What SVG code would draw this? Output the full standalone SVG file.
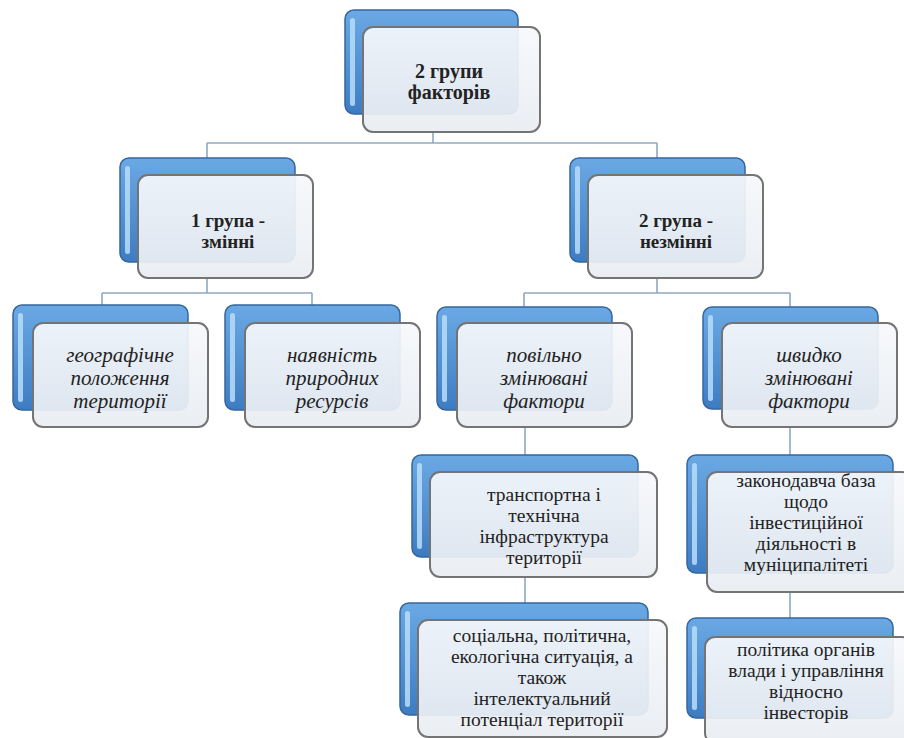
<svg xmlns="http://www.w3.org/2000/svg" width="904" height="738" viewBox="0 0 904 738">
<defs>
<linearGradient id="blue" x1="0" y1="0" x2="0" y2="1">
<stop offset="0" stop-color="#6aa9e4"/>
<stop offset="1" stop-color="#3e7cc2"/>
</linearGradient>
<linearGradient id="front" x1="0" y1="0" x2="0" y2="1">
<stop offset="0" stop-color="#f6f8fb"/>
<stop offset="1" stop-color="#e9edf2"/>
</linearGradient>
</defs>
<style>
.back{fill:url(#blue);stroke:#35679e;stroke-width:1.5}
.hl{fill:#b8ddf8;opacity:0.85}
.front{fill:url(#front);stroke:#747474;stroke-width:2;fill-opacity:0.93}
.conn{stroke:#8fa9c2;stroke-width:1.6;fill:none}
text{fill:#222;text-anchor:middle}
.t1{font-size:20px;font-weight:bold}
.t2{font-size:19px;font-weight:bold}
.t3{font-size:21px;font-style:italic}
.t4{font-size:19.5px}
</style>
<rect width="904" height="738" fill="#ffffff"/>
<g id="connectors">
<path class="conn" d="M433 132V143M207 143H657M207 143V158M657 143V158"/>
<path class="conn" d="M207 278V293M102 293H312M102 293V305M312 293V305"/>
<path class="conn" d="M657 278V293M524 293H790M524 293V307M790 293V307"/>
<path class="conn" d="M525 427V455M790 427V455"/>
<path class="conn" d="M525 577V603M790 592V618"/>
</g>
<g font-family="Liberation Serif, DejaVu Serif, Times New Roman, serif">
<g id="n-root">
<rect class="back" x="345" y="10" width="173" height="104" rx="9"/>
<rect class="hl" x="350" y="18" width="5" height="88" rx="2.5"/>
<rect class="front" x="363" y="27" width="177" height="105" rx="10"/>
<text class="t1" x="449" y="78">2 групи</text>
<text class="t1" x="449" y="99">факторів</text>
</g>
<g id="n-g1">
<rect class="back" x="120" y="158" width="175" height="104" rx="9"/>
<rect class="hl" x="125" y="166" width="5" height="88" rx="2.5"/>
<rect class="front" x="138" y="175" width="175" height="103" rx="10"/>
<text class="t2" x="228" y="227">1 група -</text>
<text class="t2" x="228" y="248">змінні</text>
</g>
<g id="n-g2">
<rect class="back" x="570" y="158" width="175" height="104" rx="9"/>
<rect class="hl" x="575" y="166" width="5" height="88" rx="2.5"/>
<rect class="front" x="588" y="175" width="175" height="103" rx="10"/>
<text class="t2" x="676" y="227">2 група -</text>
<text class="t2" x="676" y="248">незмінні</text>
</g>
<g id="n-geo">
<rect class="back" x="13" y="305" width="175" height="105" rx="9"/>
<rect class="hl" x="18" y="313" width="5" height="89" rx="2.5"/>
<rect class="front" x="33" y="323" width="175" height="104" rx="10"/>
<text class="t3" x="120" y="362">географічне</text>
<text class="t3" x="120" y="385">положення</text>
<text class="t3" x="120" y="408">території</text>
</g>
<g id="n-res">
<rect class="back" x="225" y="305" width="175" height="105" rx="9"/>
<rect class="hl" x="230" y="313" width="5" height="89" rx="2.5"/>
<rect class="front" x="245" y="323" width="175" height="104" rx="10"/>
<text class="t3" x="332" y="362">наявність</text>
<text class="t3" x="332" y="385">природних</text>
<text class="t3" x="332" y="408">ресурсів</text>
</g>
<g id="n-slow">
<rect class="back" x="437" y="307" width="175" height="103" rx="9"/>
<rect class="hl" x="442" y="315" width="5" height="87" rx="2.5"/>
<rect class="front" x="457" y="323" width="175" height="104" rx="10"/>
<text class="t3" x="544" y="362">повільно</text>
<text class="t3" x="544" y="385">змінювані</text>
<text class="t3" x="544" y="408">фактори</text>
</g>
<g id="n-fast">
<rect class="back" x="703" y="307" width="175" height="102" rx="9"/>
<rect class="hl" x="708" y="315" width="5" height="86" rx="2.5"/>
<rect class="front" x="722" y="323" width="175" height="104" rx="10"/>
<text class="t3" x="809" y="362">швидко</text>
<text class="t3" x="809" y="385">змінювані</text>
<text class="t3" x="809" y="408">фактори</text>
</g>
<g id="n-transport">
<rect class="back" x="412" y="455" width="226" height="102" rx="9"/>
<rect class="hl" x="417" y="463" width="5" height="86" rx="2.5"/>
<rect class="front" x="430" y="472" width="227" height="105" rx="10"/>
<text class="t4" x="544" y="501">транспортна і</text>
<text class="t4" x="544" y="522">технічна</text>
<text class="t4" x="544" y="543">інфраструктура</text>
<text class="t4" x="544" y="564">території</text>
</g>
<g id="n-law">
<rect class="back" x="687" y="455" width="206" height="118" rx="9"/>
<rect class="hl" x="692" y="463" width="5" height="102" rx="2.5"/>
<rect class="front" x="707" y="472" width="205" height="120" rx="10"/>
<text class="t4" x="806" y="487">законодавча база</text>
<text class="t4" x="806" y="508">щодо</text>
<text class="t4" x="806" y="529">інвестиційної</text>
<text class="t4" x="806" y="550">діяльності в</text>
<text class="t4" x="806" y="571">муніципалітеті</text>
</g>
<g id="n-social">
<rect class="back" x="400" y="603" width="248" height="112" rx="9"/>
<rect class="hl" x="405" y="611" width="5" height="96" rx="2.5"/>
<rect class="front" x="418" y="620" width="249" height="117" rx="10"/>
<text class="t4" x="542" y="642">соціальна, політична,</text>
<text class="t4" x="542" y="663">екологічна ситуація, а</text>
<text class="t4" x="542" y="684">також</text>
<text class="t4" x="542" y="705">інтелектуальний</text>
<text class="t4" x="542" y="726">потенціал території</text>
</g>
<g id="n-policy">
<rect class="back" x="687" y="618" width="206" height="100" rx="9"/>
<rect class="hl" x="692" y="626" width="5" height="84" rx="2.5"/>
<rect class="front" x="705" y="637" width="207" height="106" rx="10"/>
<text class="t4" x="806" y="656">політика органів</text>
<text class="t4" x="806" y="677">влади і управління</text>
<text class="t4" x="806" y="698">відносно</text>
<text class="t4" x="806" y="719">інвесторів</text>
</g>
</g>
</svg>
